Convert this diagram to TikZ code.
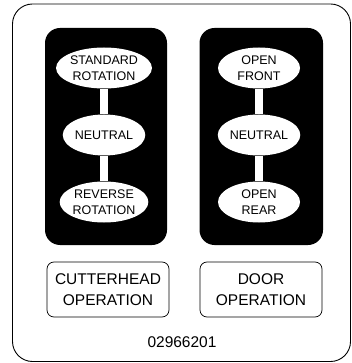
\documentclass[tikz,border=0pt]{standalone}
\usepackage{fontspec}
\setmainfont{Liberation Sans}
\usetikzlibrary{shapes.geometric}
\begin{document}
\begin{tikzpicture}[x=1pt,y=-1pt,
  panel/.style={fill=black,rounded corners=15pt},
  selector/.style={ellipse,fill=white,minimum width=82pt,minimum height=41pt,inner sep=0pt,
    align=center,font=\fontsize{12.5}{15.5}\selectfont},
  bar/.style={white,line width=8pt},
  labelbox/.style={draw,line width=0.7pt,rounded corners=7pt,minimum width=122pt,minimum height=55pt,
    inner sep=0pt,align=center,font=\fontsize{15.5}{21.5}\selectfont}]
\useasboundingbox (0,0) rectangle (352,363);
\draw[line width=0.9pt,rounded corners=20pt] (12.5,4) rectangle (350.5,361.5);
\fill[panel] (45,28) rectangle (167,245);
\fill[panel] (199.5,28) rectangle (323,245);
\node[selector] (l1) at (104,68) {STANDARD\\ROTATION};
\node[selector] (l2) at (104,135) {NEUTRAL};
\node[selector] (l3) at (104,202) {REVERSE\\ROTATION};
\node[selector] (r1) at (259,68) {OPEN\\FRONT};
\node[selector] (r2) at (259,135) {NEUTRAL};
\node[selector] (r3) at (259,202) {OPEN\\REAR};
\draw[bar] (l1.south) -- (l2.north);
\draw[bar] (l2.south) -- (l3.north);
\draw[bar] (r1.south) -- (r2.north);
\draw[bar] (r2.south) -- (r3.north);
\node[labelbox] (cut) at (108,289.5) {CUTTERHEAD\\OPERATION};
\node[labelbox] (door) at (261,289.5) {DOOR\\OPERATION};
\node[font=\fontsize{15.5}{18}\selectfont,inner sep=0pt] (num) at (182,342) {02966201};
\end{tikzpicture}
\end{document}
